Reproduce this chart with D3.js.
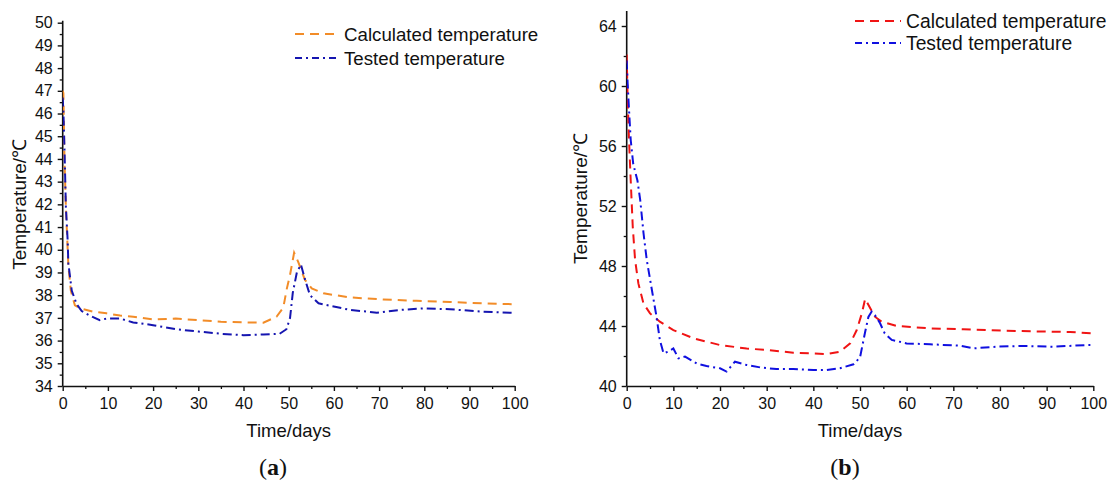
<!DOCTYPE html>
<html>
<head>
<meta charset="utf-8">
<script src="https://cdn.jsdelivr.net/npm/d3@7"></script>
<style>
  html, body { margin: 0; padding: 0; background: #fff; }
  svg { display: block; }
  text { font-family: "Liberation Sans", Arial, sans-serif; fill: #111; }
</style>
</head>
<body>
<svg id="chart" width="1111" height="484"></svg>
<script>
// ---------- Data (a) ----------
const calcDaysA = [0, 0.15, 0.4, 0.7, 1.25, 1.8, 2.7, 4.2, 6.8, 9.7, 12.7, 15.6, 20, 25, 30, 35, 40, 44.4, 46.2, 47.3, 48.8, 49.6, 50.3, 51.2, 52.1, 53.6, 55.1, 57.7, 63.6, 70.9, 78.3, 85.7, 93, 100];
const calcTempA = [47.0, 46.9, 43.9, 41.9, 39.3, 38.2, 37.55, 37.4, 37.27, 37.2, 37.1, 37.05, 36.93, 36.97, 36.9, 36.83, 36.8, 36.79, 36.95, 37.05, 37.45, 38.3, 38.9, 39.87, 39.47, 38.67, 38.3, 38.08, 37.9, 37.81, 37.75, 37.7, 37.64, 37.6];
const testDaysA = [0, 0.15, 0.4, 0.7, 1.1, 1.25, 2.0, 3.1, 4.2, 6.0, 8.2, 9.7, 12.7, 15.6, 20, 25, 30, 35, 40, 44.4, 48, 49.5, 50.3, 50.9, 51.8, 52.7, 53.6, 54.7, 56.6, 63.6, 69.5, 74.6, 79.8, 85.7, 93, 100];
const testTempA = [46.7, 46.1, 44.4, 41.9, 40.4, 39.4, 38.2, 37.6, 37.3, 37.1, 36.9, 36.97, 36.97, 36.8, 36.68, 36.5, 36.4, 36.3, 36.24, 36.27, 36.3, 36.5, 37.0, 38.1, 39.0, 39.35, 38.7, 38.0, 37.64, 37.35, 37.23, 37.35, 37.42, 37.38, 37.27, 37.22];

// ---------- Data (b) ----------
const calcDaysB = [0, 0.2, 0.5, 0.86, 1.3, 1.8, 2.5, 3.6, 5, 7.1, 10, 14.3, 20, 25.7, 30, 35.7, 40, 42.9, 45.7, 47.9, 49.3, 50.4, 51.1, 53.2, 54.6, 57.9, 65, 72.1, 80.7, 87.9, 95, 100];
const calcTempB = [62.1, 59.1, 56.4, 53.7, 50.6, 48.4, 46.84, 45.5, 44.84, 44.29, 43.73, 43.18, 42.73, 42.5, 42.4, 42.22, 42.18, 42.13, 42.29, 42.84, 43.73, 44.84, 45.8, 44.62, 44.29, 44.0, 43.84, 43.78, 43.69, 43.64, 43.6, 43.51];
const testDaysB = [0, 0.2, 0.5, 0.86, 1.4, 2.3, 2.9, 3.6, 4.3, 5.4, 6.4, 7.1, 7.9, 8.9, 10, 11.1, 12.5, 15, 17.1, 20, 21.4, 23.2, 25.7, 28.6, 32.1, 35.7, 40, 42.9, 45.7, 48.6, 50, 51.1, 51.8, 52.5, 53.2, 54.3, 55.3, 56.8, 60, 65, 71.4, 74.3, 79.3, 84.3, 91.4, 98.6, 100];
const testTempB = [61.7, 60.2, 58.4, 56.4, 54.8, 53.7, 52.4, 50.2, 48.4, 46.4, 44.6, 43.07, 42.18, 42.29, 42.5, 41.84, 41.96, 41.5, 41.33, 41.18, 40.96, 41.62, 41.4, 41.24, 41.13, 41.13, 41.07, 41.07, 41.18, 41.45, 41.9, 43.6, 44.6, 44.96, 44.73, 44.18, 43.51, 43.07, 42.84, 42.78, 42.69, 42.51, 42.62, 42.67, 42.62, 42.73, 42.73];

const seriesNames = ["Calculated temperature", "Tested temperature"];
const xTicks = [0, 10, 20, 30, 40, 50, 60, 70, 80, 90, 100];
const yTicksA = [34, 35, 36, 37, 38, 39, 40, 41, 42, 43, 44, 45, 46, 47, 48, 49, 50];
const yTicksB = [40, 44, 48, 52, 56, 60, 64];

// ---------- Drawing ----------
const svg = d3.select("#chart");

function panel(cfg) {
  const g = svg.append("g");
  const x = d3.scaleLinear().domain([0, 100]).range([cfg.left, cfg.right]);
  const y = d3.scaleLinear().domain(cfg.yDomain).range([cfg.bottom, cfg.top]);

  // minor ticks
  const xMinor = d3.range(0, 101, 5).filter(v => v % 10 !== 0);
  g.append("g").attr("transform", `translate(0,${cfg.bottom})`)
    .call(d3.axisBottom(x).tickValues(xMinor).tickSize(3).tickFormat("").tickSizeOuter(0))
    .call(s => s.select(".domain").remove())
    .call(s => s.selectAll("line").attr("stroke", "#111").attr("stroke-width", 1.3));
  g.append("g").attr("transform", `translate(${cfg.left},0)`)
    .call(d3.axisLeft(y).tickValues(cfg.yMinor).tickSize(3).tickFormat("").tickSizeOuter(0))
    .call(s => s.select(".domain").remove())
    .call(s => s.selectAll("line").attr("stroke", "#111").attr("stroke-width", 1.3));

  // major axes
  const xa = g.append("g").attr("transform", `translate(0,${cfg.bottom})`)
    .call(d3.axisBottom(x).tickValues(xTicks).tickSize(5).tickPadding(7).tickSizeOuter(0));
  const ya = g.append("g").attr("transform", `translate(${cfg.left},0)`)
    .call(d3.axisLeft(y).tickValues(cfg.yTicks).tickSize(5).tickPadding(5).tickSizeOuter(0));
  [xa, ya].forEach(a => {
    a.select(".domain").attr("stroke", "#111").attr("stroke-width", 1.6);
    a.selectAll(".tick line").attr("stroke", "#111").attr("stroke-width", 1.4);
    a.selectAll(".tick text").style("font-size", "16px").style("font-family", "Liberation Sans, Arial, sans-serif").attr("fill", "#111");
  });
  // extend y axis line slightly above top tick
  ya.select(".domain").attr("d", `M0,${cfg.bottom}V${cfg.axisTop}`);

  // lines
  const line = d3.line().x(d => x(d[0])).y(d => y(d[1]));
  const clipId = "clip" + cfg.id;
  g.append("clipPath").attr("id", clipId).append("rect")
    .attr("x", cfg.left).attr("y", cfg.axisTop - 5).attr("width", cfg.right - cfg.left + 5).attr("height", cfg.bottom - cfg.axisTop + 5);
  const calc = cfg.calcDays.map((d, i) => [d, cfg.calcTemp[i]]);
  const test = cfg.testDays.map((d, i) => [d, cfg.testTemp[i]]);
  g.append("path").datum(calc).attr("d", line).attr("fill", "none")
    .attr("stroke", cfg.calcColor).attr("stroke-width", 2).attr("stroke-dasharray", "9,6")
    .attr("clip-path", `url(#${clipId})`);
  g.append("path").datum(test).attr("d", line).attr("fill", "none")
    .attr("stroke", cfg.testColor).attr("stroke-width", 2).attr("stroke-dasharray", "9,4,2,4")
    .attr("clip-path", `url(#${clipId})`);

  // axis titles
  g.append("text").attr("transform", `translate(${cfg.yTitleX},${(cfg.top + cfg.bottom) / 2}) rotate(-90)`)
    .attr("text-anchor", "middle").style("font-size", "19px").text("Temperature/℃");
  g.append("text").attr("x", (cfg.left + cfg.right) / 2).attr("y", 437)
    .attr("text-anchor", "middle").style("font-size", "18.5px").text("Time/days");

  // legend
  const lg = g.append("g");
  const styles = [
    { color: cfg.calcColor, dash: "9,6" },
    { color: cfg.testColor, dash: "7,4,2,4" }
  ];
  seriesNames.forEach((name, i) => {
    const yy = cfg.legY[i];
    lg.append("line").attr("x1", cfg.legX1).attr("x2", cfg.legX2).attr("y1", yy).attr("y2", yy)
      .attr("stroke", styles[i].color).attr("stroke-width", 2).attr("stroke-dasharray", styles[i].dash);
    lg.append("text").attr("x", cfg.legTextX).attr("y", yy + 6.5).style("font-size", cfg.legFont).text(name);
  });

  // caption
  const cap = g.append("text").attr("x", cfg.capX).attr("y", 475).attr("text-anchor", "middle")
    .style("font-family", "Liberation Serif, 'DejaVu Serif', serif").style("font-size", "24px");
  cap.append("tspan").text("(");
  cap.append("tspan").style("font-weight", "bold").text(cfg.capLetter);
  cap.append("tspan").text(")");
}

panel({
  id: "a", left: 62.7, right: 514.7, top: 22.7, bottom: 386, axisTop: 20.7,
  yDomain: [34, 50], yTicks: yTicksA, yMinor: d3.range(34.5, 50, 1),
  calcDays: calcDaysA, calcTemp: calcTempA, testDays: testDaysA, testTemp: testTempA,
  calcColor: "#F28C28", testColor: "#1515B0",
  yTitleX: 26, legX1: 295, legX2: 338, legTextX: 344, legY: [34, 58], legFont: "18.7px",
  capX: 273, capLetter: "a"
});

panel({
  id: "b", left: 626.7, right: 1093.3, top: 11, bottom: 386, axisTop: 11,
  yDomain: [40, 65], yTicks: yTicksB, yMinor: [42, 46, 50, 54, 58, 62],
  calcDays: calcDaysB, calcTemp: calcTempB, testDays: testDaysB, testTemp: testTempB,
  calcColor: "#F01414", testColor: "#1010E0",
  yTitleX: 587, legX1: 855, legX2: 901, legTextX: 906, legY: [21, 43], legFont: "19.3px",
  capX: 845, capLetter: "b"
});
</script>
</body>
</html>
